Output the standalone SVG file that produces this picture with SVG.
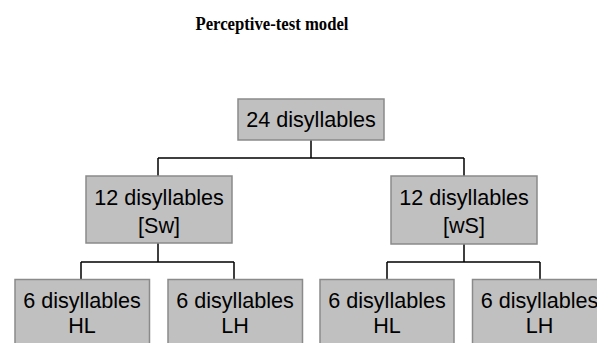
<svg xmlns="http://www.w3.org/2000/svg" width="597" height="343" viewBox="0 0 597 343">
<style>
.box{fill:#c0c0c0;stroke:#8a8a8a;stroke-width:1.5}
.t{font-family:"Liberation Sans",Arial,sans-serif;font-size:21.6px;fill:#000;text-anchor:middle}
.title{font-family:"Liberation Serif","Times New Roman",serif;font-size:18.5px;font-weight:bold;fill:#000;text-anchor:middle}
.c{fill:none;stroke:#000;stroke-width:1.5}
</style>
<rect width="597" height="343" fill="#fff"/>
<text class="title" x="272" y="29.5" textLength="153" lengthAdjust="spacingAndGlyphs">Perceptive-test model</text>
<g id="connectors">
<path class="c" d="M311,140 V158 M158,158 H464 M158,158 V176 M464,158 V176"/>
<path class="c" d="M158,243 V262 M81,262 H234 M81,262 V279 M234,262 V279"/>
<path class="c" d="M464,244 V262 M387,262 H540 M387,262 V279 M540,262 V279"/>
</g>
<g id="n24">
<rect class="box" x="238" y="99" width="146" height="41"/>
<text class="t" x="311" y="127">24 disyllables</text>
</g>
<g id="n12sw">
<rect class="box" x="86" y="176" width="146" height="67"/>
<text class="t" x="159" y="205">12 disyllables</text>
<text class="t" x="159" y="233">[Sw]</text>
</g>
<g id="n12ws">
<rect class="box" x="391" y="176" width="146" height="68"/>
<text class="t" x="464" y="205">12 disyllables</text>
<text class="t" x="464" y="233">[wS]</text>
</g>
<g id="n6a">
<rect class="box" x="15" y="279.5" width="134.5" height="70"/>
<text class="t" x="82" y="308">6 disyllables</text>
<text class="t" x="82" y="333">HL</text>
</g>
<g id="n6b">
<rect class="box" x="168" y="279.5" width="134.5" height="70"/>
<text class="t" x="235" y="308">6 disyllables</text>
<text class="t" x="235" y="333">LH</text>
</g>
<g id="n6c">
<rect class="box" x="320" y="279.5" width="134" height="70"/>
<text class="t" x="387" y="308">6 disyllables</text>
<text class="t" x="387" y="333">HL</text>
</g>
<g id="n6d">
<rect class="box" x="472.5" y="279.5" width="134" height="70"/>
<text class="t" x="539.5" y="308">6 disyllables</text>
<text class="t" x="539.5" y="333">LH</text>
</g>
</svg>
